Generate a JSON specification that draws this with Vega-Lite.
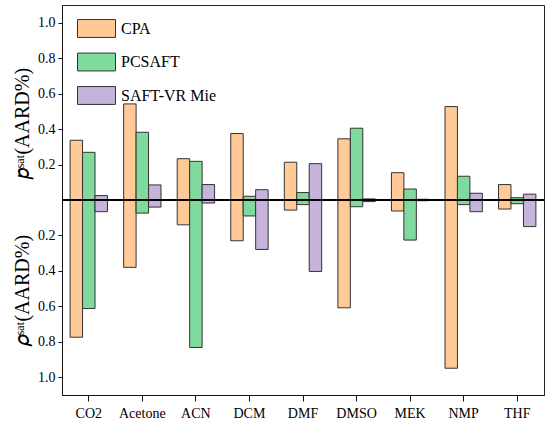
{
  "$schema": "https://vega.github.io/schema/vega-lite/v6.json",
  "width": 482,
  "height": 390,
  "autosize": "none",
  "padding": {"left": 62, "top": 5, "right": 6, "bottom": 30},
  "background": "white",
  "data": {
    "values": [
      {"solvent": "CO2", "model": "CPA", "p": 0.337, "rho_neg": -0.774},
      {"solvent": "CO2", "model": "PCSAFT", "p": 0.269, "rho_neg": -0.612},
      {"solvent": "CO2", "model": "SAFT-VR Mie", "p": 0.025, "rho_neg": -0.066},
      {"solvent": "Acetone", "model": "CPA", "p": 0.542, "rho_neg": -0.38},
      {"solvent": "Acetone", "model": "PCSAFT", "p": 0.382, "rho_neg": -0.074},
      {"solvent": "Acetone", "model": "SAFT-VR Mie", "p": 0.085, "rho_neg": -0.04},
      {"solvent": "ACN", "model": "CPA", "p": 0.233, "rho_neg": -0.14},
      {"solvent": "ACN", "model": "PCSAFT", "p": 0.218, "rho_neg": -0.832},
      {"solvent": "ACN", "model": "SAFT-VR Mie", "p": 0.087, "rho_neg": -0.017},
      {"solvent": "DCM", "model": "CPA", "p": 0.375, "rho_neg": -0.23},
      {"solvent": "DCM", "model": "PCSAFT", "p": 0.021, "rho_neg": -0.09},
      {"solvent": "DCM", "model": "SAFT-VR Mie", "p": 0.058, "rho_neg": -0.279},
      {"solvent": "DMF", "model": "CPA", "p": 0.213, "rho_neg": -0.057},
      {"solvent": "DMF", "model": "PCSAFT", "p": 0.042, "rho_neg": -0.026},
      {"solvent": "DMF", "model": "SAFT-VR Mie", "p": 0.205, "rho_neg": -0.403},
      {"solvent": "DMSO", "model": "CPA", "p": 0.345, "rho_neg": -0.608},
      {"solvent": "DMSO", "model": "PCSAFT", "p": 0.405, "rho_neg": -0.038},
      {"solvent": "DMSO", "model": "SAFT-VR Mie", "p": 0.006, "rho_neg": -0.009},
      {"solvent": "MEK", "model": "CPA", "p": 0.154, "rho_neg": -0.062},
      {"solvent": "MEK", "model": "PCSAFT", "p": 0.062, "rho_neg": -0.226},
      {"solvent": "MEK", "model": "SAFT-VR Mie", "p": 0.004, "rho_neg": -0.004},
      {"solvent": "NMP", "model": "CPA", "p": 0.527, "rho_neg": -0.949},
      {"solvent": "NMP", "model": "PCSAFT", "p": 0.134, "rho_neg": -0.026},
      {"solvent": "NMP", "model": "SAFT-VR Mie", "p": 0.038, "rho_neg": -0.066},
      {"solvent": "THF", "model": "CPA", "p": 0.087, "rho_neg": -0.051},
      {"solvent": "THF", "model": "PCSAFT", "p": 0.013, "rho_neg": -0.021},
      {"solvent": "THF", "model": "SAFT-VR Mie", "p": 0.033, "rho_neg": -0.15}
    ]
  },
  "layer": [
    {
      "mark": {"type": "bar", "stroke": "#333333", "strokeWidth": 1, "opacity": 1},
      "encoding": {
        "x": {
          "field": "solvent",
          "type": "nominal",
          "sort": ["CO2", "Acetone", "ACN", "DCM", "DMF", "DMSO", "MEK", "NMP", "THF"],
          "scale": {"paddingInner": 0, "paddingOuter": 0},
          "axis": {
            "title": null,
            "labelAngle": 0,
            "tickSize": 6,
            "labelPadding": 5,
            "labelFont": "Liberation Serif",
            "labelFontSize": 14,
            "labelColor": "black",
            "domainColor": "#111111",
            "tickColor": "#111111"
          }
        },
        "xOffset": {
          "field": "model",
          "type": "nominal",
          "scale": {"paddingOuter": 0.65, "paddingInner": 0}
        },
        "y": {
          "field": "p",
          "type": "quantitative",
          "scale": {"domain": [-1.1, 1.1], "nice": false, "zero": false},
          "axis": {
            "title": "𝑝ˢᵃᵗ(AARD%)",
            "values": [-1, -0.8, -0.6, -0.4, -0.2, 0.2, 0.4, 0.6, 0.8, 1],
            "labelExpr": "format(abs(datum.value), '.1f')",
            "labelFont": "Liberation Serif",
            "labelFontSize": 14,
            "labelColor": "black",
            "tickSize": 4,
            "labelPadding": 3,
            "titleX": -40,
            "titleY": 118,
            "titleAlign": "center",
            "titleBaseline": "middle",
            "titleFont": "Liberation Serif",
            "titleFontSize": 20,
            "titleFontWeight": "normal",
            "titleColor": "black",
            "domainColor": "#111111",
            "tickColor": "#111111"
          }
        },
        "y2": {"field": "rho_neg"},
        "color": {
          "field": "model",
          "type": "nominal",
          "scale": {"domain": ["CPA", "PCSAFT", "SAFT-VR Mie"], "range": ["#FFCA96", "#80DA9D", "#C6B2DA"]},
          "legend": {
            "title": null,
            "orient": "none",
            "legendX": 15,
            "legendY": 4,
            "padding": 0,
            "symbolType": "M-1,-0.47L1,-0.47L1,0.47L-1,0.47Z",
            "symbolSize": 1444,
            "symbolStrokeColor": "#333333",
            "symbolStrokeWidth": 1,
            "symbolOpacity": 1,
            "rowPadding": 2.5,
            "labelOffset": 5,
            "labelFontSize": 16,
            "labelFont": "Liberation Serif",
            "labelColor": "black"
          }
        }
      }
    },
    {
      "mark": {"type": "rule", "color": "black", "strokeWidth": 1.5},
      "encoding": {
        "y": {
          "datum": 0,
          "type": "quantitative",
          "axis": {
            "title": "𝜌ˢᵃᵗ(AARD%)",
            "orient": "left",
            "labels": false,
            "ticks": false,
            "domain": false,
            "grid": false,
            "titleX": -40,
            "titleY": 285,
            "titleAlign": "center",
            "titleBaseline": "middle",
            "titleFont": "Liberation Serif",
            "titleFontSize": 20,
            "titleFontWeight": "normal",
            "titleColor": "black"
          }
        }
      }
    }
  ],
  "resolve": {"axis": {"y": "independent"}},
  "config": {
    "view": {"stroke": "#222222", "strokeWidth": 1},
    "axis": {"grid": false}
  }
}
